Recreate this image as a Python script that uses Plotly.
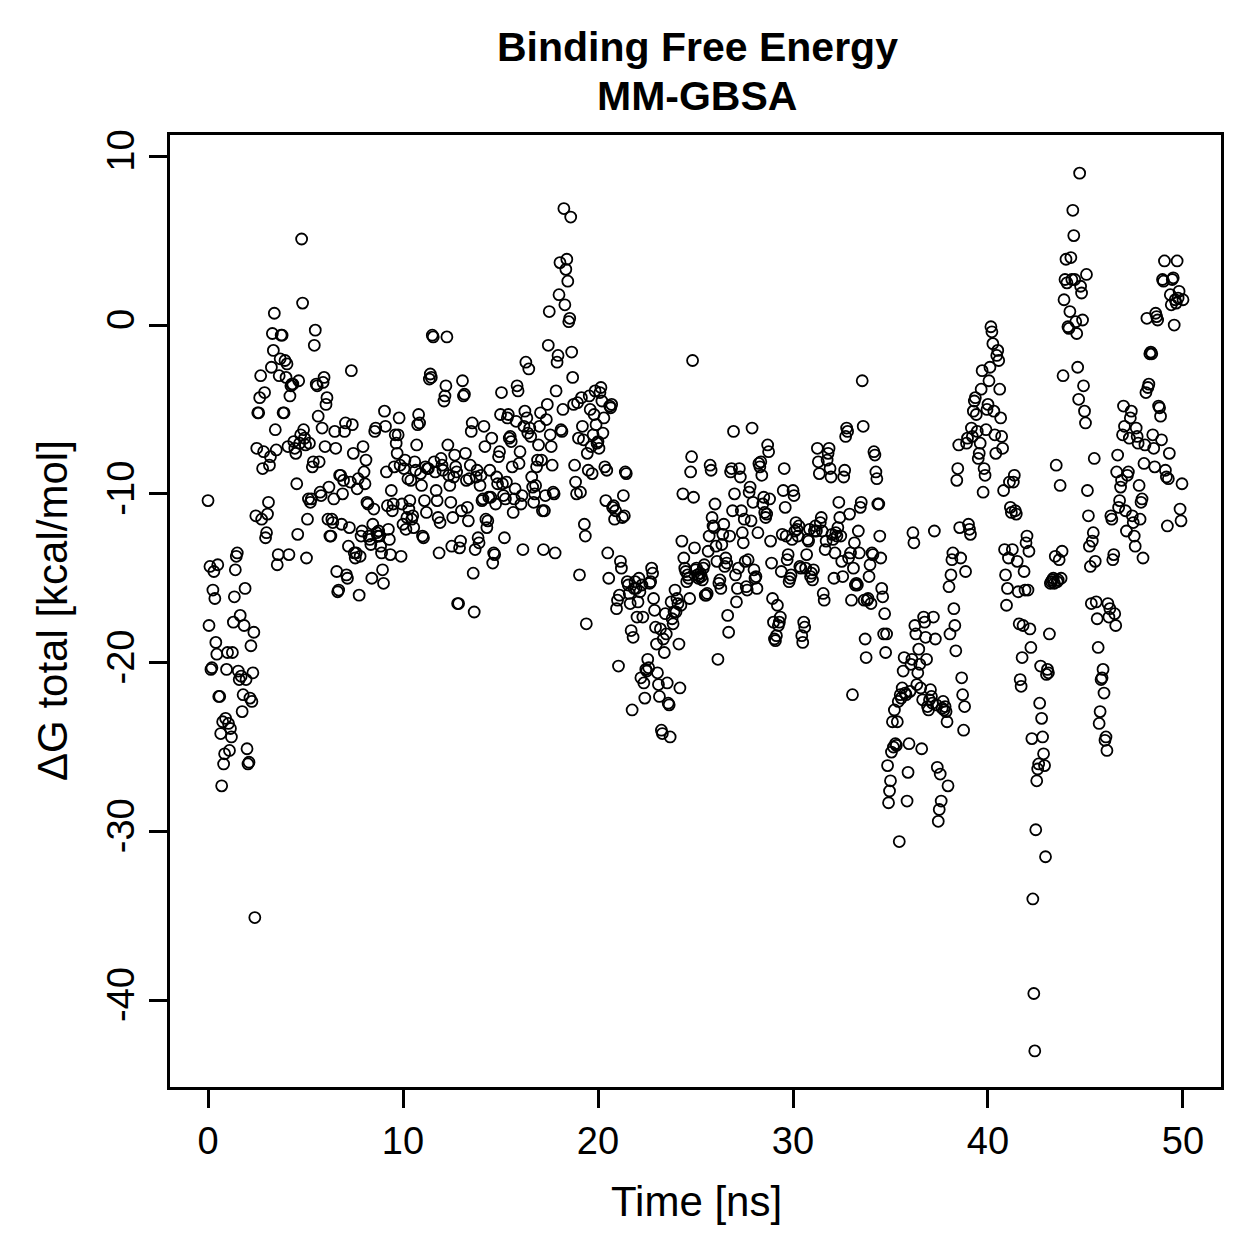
import plotly.graph_objects as go

# Binding free energy (kcal/mol), one frame every 0.05 ns
dg_total = [
    -10.4, -17.8, -14.3, -20.4, -20.3, -15.7, -14.6, -16.2, -18.8, -19.5, -14.2,
    -22.0, -22.0, -24.2, -27.3, -23.5, -26.0, -25.4, -23.3, -20.4, -19.4,
    -23.6, -25.2, -23.9, -24.4, -19.4, -17.6, -16.1, -14.5, -13.7, -13.5, -20.5, -21.0,
    -17.2, -20.8, -22.9, -21.9, -17.8, -15.6, -21.0, -25.1, -26.0, -25.9, -22.1, -19.0,
    -22.3, -20.6, -18.2, -35.1, -11.3, -7.3, -5.2, -5.2, -4.3, -3.0,
    -11.5, -8.5, -7.5, -4.0, -12.6, -12.3, -11.2, -10.5, -8.3, -7.8,
    -2.5, -0.5, -1.5, 0.7, -6.2, -7.4, -14.2, -13.6, -3.0, -2.0,
    -0.6, -0.6, -5.2, -5.2, -2.1, -3.1, -2.3, -7.2, -13.6, -4.2,
    -3.6, -3.5, -3.5, -6.9, -7.3, -7.6, -9.4, -12.4, -3.3, -7.0,
    -6.5, 5.1, 1.3, -6.2, -6.7, -7.1, -13.8, -11.5, -10.3, -7.0,
    -10.5, -10.3, -8.4, -8.1, -1.2, -0.3, -3.5, -3.6, -5.4, -8.1,
    -9.9, -10.1, -6.1, -3.4, -3.1, -7.2, -4.7, -4.3, -11.5, -9.6,
    -12.5, -12.5, -11.5, -11.7, -10.3, -6.3, -7.3, -14.6, -15.8, -15.7,
    -8.9, -8.9, -11.8, -10.0, -9.2, -6.3, -5.8, -14.8, -15.0, -13.1,
    -12.0, -9.3, -2.7, -5.9, -7.6, -13.5, -13.8, -13.5, -9.7, -9.1,
    -16.0, -13.7, -12.5, -12.2, -7.2, -8.7, -9.4, -8.0, -10.5, -10.6,
    -12.5, -12.7, -13.0, -15.0, -11.8, -10.9, -6.3, -6.1, -12.3, -12.5,
    -12.2, -12.5, -13.1, -13.5, -14.5, -15.3, -5.1, -6.0, -8.7, -10.7,
    -12.1, -12.7, -13.6, -9.8, -11.0, -10.6, -8.4, -6.5, -7.0, -7.6,
    -6.5, -5.5, -8.3, -13.7, -10.6, -11.8, -8.5, -8.0, -12.1, -11.4,
    -9.1, -10.9, -10.4, -9.2, -11.5, -11.3, -12.0, -8.1, -8.6, -7.1,
    -5.9, -5.3, -5.8, -8.8, -9.5, -12.5, -12.6, -10.4, -8.4, -11.1,
    -8.5, -8.5, -3.2, -2.9, -3.1, -0.6, -0.7, -8.1, -8.7, -9.8,
    -10.4, -11.4, -13.5, -11.7, -7.9, -8.3, -8.6, -4.5, -4.2, -3.6,
    -0.7, -7.1, -8.9, -9.5, -10.5, -13.1, -11.4, -9.0, -7.7, -8.4,
    -8.7, -16.5, -16.5, -13.2, -12.8, -11.0, -3.3, -4.2, -4.1, -7.6,
    -9.2, -10.8, -11.6, -9.1, -8.3, -6.3, -5.8, -14.7, -17.0, -13.3,
    -9.0, -8.6, -12.6, -12.9, -9.5, -8.9, -10.4, -10.3, -6.0, -7.2,
    -11.5, -12.0, -11.6, -10.2, -8.6, -10.2, -6.7, -14.1, -13.5, -13.6,
    -10.6, -9.0, -9.4, -7.8, -7.5, -5.3, -4.0, -9.4, -10.1, -12.6,
    -10.3, -9.3, -5.5, -5.3, -6.7, -6.6, -6.9, -8.4, -11.1, -10.3,
    -9.7, -5.7, -3.6, -3.9, -8.2, -7.5, -10.6, -10.1, -13.3, -6.0,
    -5.1, -2.2, -5.5, -6.4, -2.6, -6.1, -6.6, -9.0, -9.6, -10.5,
    -10.0, -9.5, -8.4, -8.0, -7.1, -6.0, -5.2, -8.0, -11.0, -13.3,
    -11.0, -10.1, -5.6, -4.7, -1.2, 0.8, -6.5, -7.2, -8.3, -9.9,
    -10.0, -13.5, -3.9, -2.2, -1.8, 1.8, 3.7, -6.2, -6.3, -5.0,
    6.9, 1.2, 3.3, 3.9, 2.6, 0.2, 0.4, 6.4, -1.6, -3.1,
    -4.7, -8.3, -9.3, -10.0, -4.6, -6.7, -14.8, -9.9, -4.3, -6.0,
    -6.8, -11.8, -12.5, -17.7, -7.6, -8.6, -4.2, -5.0, -7.2, -8.8,
    -6.5, -5.3, -3.9, -5.9, -7.0, -6.9, -7.3, -4.0, -3.7, -4.5,
    -6.4, -5.5, -8.4, -10.4, -8.6, -13.5, -15.0, -4.8, -4.9, -4.7,
    -10.8, -10.7, -11.5, -11.0, -16.8, -16.3, -20.2, -16.0, -14.0, -14.4,
    -11.4, -10.1, -11.3, -8.7, -8.8, -15.2, -15.4, -15.9, -16.5, -18.1,
    -22.8, -18.5, -15.6, -15.2, -15.6, -17.3, -16.4, -15.0, -15.8, -20.9,
    -15.4, -17.3, -21.2, -22.1, -20.4, -20.5, -19.8, -20.3, -15.3, -15.2,
    -14.4, -14.7, -16.2, -16.9, -17.9, -18.9, -20.6, -21.3, -22.0, -18.0,
    -24.0, -24.2, -18.6, -19.4, -17.1, -18.3, -21.2, -22.4, -22.5, -24.4,
    -16.4, -17.4, -17.7, -17.0, -15.7, -17.0, -16.2, -16.5, -18.9, -21.5,
    -16.6, -12.8, -10.0, -13.8, -14.4, -14.6, -15.2, -14.8, -15.0, -16.2,
    -8.7, -7.8, -2.1, -10.2, -13.2, -14.5, -14.4, -14.8, -15.0, -14.9,
    -14.7, -14.9, -15.1, -14.4, -14.2, -16.0, -16.0, -15.9, -13.4, -12.5,
    -8.3, -8.6, -11.4, -11.9, -12.0, -10.6, -13.1, -14.0, -19.8, -15.3,
    -15.1, -15.6, -13.0, -12.4, -11.8, -14.3, -13.8, -14.1, -17.2, -18.2,
    -12.5, -8.7, -8.5, -11.0, -6.3, -10.0, -14.8, -16.4, -15.6, -14.4,
    -8.5, -9.0, -11.0, -12.3, -12.9, -11.5, -14.0, -15.5, -15.7, -13.9,
    -9.9, -9.6, -11.6, -6.1, -10.5, -14.5, -15.0, -14.9, -15.6, -12.3,
    -8.2, -8.4, -8.1, -8.9, -10.6, -10.2, -11.1, -11.4, -11.2, -7.1,
    -7.5, -10.3, -12.8, -14.1, -16.2, -17.6, -18.6, -18.7, -18.4, -16.6,
    -17.8, -17.6, -17.3, -14.6, -12.4, -9.8, -8.5, -10.8, -12.5, -13.9,
    -13.6, -15.2, -15.0, -14.8, -12.7, -9.8, -10.1, -12.2, -11.7, -12.1,
    -12.5, -11.9, -14.3, -14.4, -18.4, -18.8, -17.6, -17.9, -14.4, -13.6,
    -12.7, -12.8, -12.1, -14.9, -14.7, -15.1, -14.5, -12.2, -11.9, -12.2,
    -7.3, -8.1, -8.8, -11.7, -11.4, -12.2, -15.9, -16.3, -13.3, -12.8,
    -8.0, -7.6, -7.3, -8.5, -9.0, -12.4, -12.7, -15.0, -13.5, -12.3,
    -12.5, -12.0, -10.5, -11.4, -12.5, -14.0, -14.9, -9.0, -8.6, -6.6,
    -6.1, -6.3, -13.8, -11.2, -13.5, -16.3, -21.9, -14.4, -12.9, -15.4,
    -15.3, -15.4, -12.2, -13.5, -10.8, -10.5, -3.3, -6.0, -16.3, -18.6,
    -19.7, -16.3, -16.2, -14.9, -14.2, -16.5, -13.5, -13.6, -7.5, -7.7,
    -8.7, -9.1, -10.6, -10.6, -12.5, -13.8, -15.6, -16.1, -18.3, -17.1,
    -19.4, -18.3, -26.1, -28.3, -27.6, -27.0, -25.3, -23.5, -25.0, -22.8,
    -24.8, -24.9, -23.5, -22.3, -30.6, -21.9, -22.1, -21.5, -20.5, -19.7,
    -21.8, -21.9, -28.2, -26.5, -24.8, -21.7, -20.1, -19.8, -12.3, -12.9,
    -17.8, -18.3, -21.3, -20.6, -19.2, -20.1, -21.5, -25.1, -22.2, -17.3,
    -17.6, -18.5, -19.8, -22.6, -22.8, -22.2, -21.6, -22.0, -22.4, -17.3,
    -12.2, -18.6, -22.5, -26.2, -29.4, -28.7, -26.6, -28.2, -22.7, -22.3,
    -22.8, -22.6, -22.9, -23.5, -27.3, -15.5, -18.3, -14.8, -13.9, -13.5,
    -16.8, -17.8, -19.3, -9.2, -8.5, -7.1, -12.0, -13.8, -20.9, -21.9,
    -24.0, -22.6, -14.6, -7.0, -6.7, -11.8, -12.1, -12.4, -6.1, -6.6,
    -5.1, -4.5, -4.3, -5.3, -6.3, -7.9, -7.6, -7.0, -3.8, -2.7,
    -9.9, -8.5, -8.9, -6.2, -5.0, -4.7, -3.3, -2.5, -0.1, -0.4,
    -1.1, -5.1, -6.5, -7.6, -1.8, -1.5, -2.1, -3.8, -5.5, -6.6,
    -7.3, -9.8, -13.3, -14.8, -16.6, -15.6, -13.8, -9.3, -10.8, -11.1,
    -13.3, -9.3, -8.9, -11.0, -11.2, -14.0, -15.8, -17.7, -21.0, -21.4,
    -19.7, -17.8, -14.6, -15.7, -12.9, -12.5, -15.7, -13.4, -18.0, -19.1,
    -24.5, -34.0, -39.6, -43.0, -29.9, -27.0, -26.3, -26.0, -22.4, -20.2,
    -23.3, -24.4, -25.4, -26.1, -31.5, -20.7, -20.4, -20.6, -18.3, -15.3,
    -15.2, -15.1, -15.0, -15.3, -13.7, -8.3, -15.2, -15.1, -13.9, -9.5,
    -15.0, -13.4, -3.0, 1.5, 2.7, 3.9, 2.5, -0.1, -0.2, 0.8,
    4.0, 2.7, 6.8, 5.3, 2.7, 0.2, -0.5, -2.5, -4.4, 9.0,
    2.3, 1.9, 0.3, -3.6, -5.1, -5.8, 3.0, -9.8, -11.3, -13.1,
    -14.3, -16.5, -12.8, -12.3, -7.9, -14.0, -16.4, -17.4, -19.1, -23.6,
    -22.9, -21.0, -20.9, -20.4, -21.8, -24.6, -24.4, -25.2, -16.5, -17.3,
    -16.8, -11.3, -11.5, -13.9, -13.6, -17.1, -17.8, -8.7, -7.7,
    -10.8, -10.4, -9.6, -9.2, -6.5, -4.8, -6.0, -11.0, -12.2,
    -8.9, -8.7, -6.7, -5.5, -5.1, -11.3, -11.7, -12.5, -13.1, -6.1,
    -6.6, -7.0, -9.5, -11.5, -10.5, -10.3, -13.8, -8.2, -7.1, -4.0,
    0.4, -3.7, -3.5, -1.7, -1.6, -1.7, -6.5, -7.3, -8.4, 0.7,
    0.5, 0.3, -4.8, -4.9, -5.4, -6.8, 2.7, 2.6, 3.8, -8.6,
    -9.0, -11.9, -9.1, -7.6, 1.8, 1.2, 2.7, 2.8, 0.0,
    1.5, 1.3, 3.8, 1.6, 2.0, -10.9, -11.6, -9.4, 1.5,
]
frame_step_ns = 0.05
time_ns = [round(i * frame_step_ns, 3) for i in range(len(dg_total))]

x_ticks = [0, 10, 20, 30, 40, 50]
y_ticks = [10, 0, -10, -20, -30, -40]

title_lines = ["Binding Free Energy", "MM-GBSA"]
x_title = "Time [ns]"
y_title = "ΔG total [kcal/mol]"

FONT = "Liberation Sans, Arial, Helvetica, sans-serif"

fig = go.Figure()
fig.add_trace(go.Scatter(
    x=time_ns, y=dg_total, mode="markers",
    marker=dict(symbol="circle-open", size=11, color="black",
                line=dict(color="black", width=1.8)),
    showlegend=False, hoverinfo="x+y",
))

axis_common = dict(
    showline=True, linecolor="black", linewidth=3, mirror=True,
    ticks="outside", ticklen=18, tickwidth=3, tickcolor="black",
    showgrid=False, zeroline=False,
    tickfont=dict(family=FONT, size=38, color="black"),
)

fig.update_layout(
    width=1259, height=1259,
    margin=dict(l=170, r=38, t=135, b=172),
    paper_bgcolor="white", plot_bgcolor="white",
    font=dict(family=FONT, color="black"),
    xaxis=dict(range=[-1.95, 51.95], tickvals=x_ticks,
               ticktext=[str(v) for v in x_ticks], **axis_common),
    yaxis=dict(range=[-45.14, 11.26], tickvals=y_ticks,
               ticktext=[str(v) for v in y_ticks], tickangle=-90, **axis_common),
    annotations=[
        dict(text="<b>" + title_lines[0] + "</b>", x=697, y=47, xref="paper", yref="paper",
             showarrow=False, font=dict(size=41, family=FONT)),
        dict(text="<b>" + title_lines[1] + "</b>", x=697, y=96, xref="paper", yref="paper",
             showarrow=False, font=dict(size=41, family=FONT)),
        dict(text=x_title, x=696, y=1201, xref="paper", yref="paper",
             showarrow=False, font=dict(size=42, family=FONT)),
        dict(text=y_title, x=52, y=611, xref="paper", yref="paper", textangle=-90,
             showarrow=False, font=dict(size=42, family=FONT)),
    ],
)

# Convert the pixel-anchored annotation positions into paper coordinates
plot_l, plot_r, plot_t, plot_b = 170, 1221, 135, 1087
anns = list(fig.layout.annotations)
for a in anns:
    a.x = (a.x - plot_l) / (plot_r - plot_l)
    a.xanchor = "center"
    a.y = (plot_b - a.y) / (plot_b - plot_t)
    a.yanchor = "middle"
fig.layout.annotations = anns

fig.write_html("out.html")
